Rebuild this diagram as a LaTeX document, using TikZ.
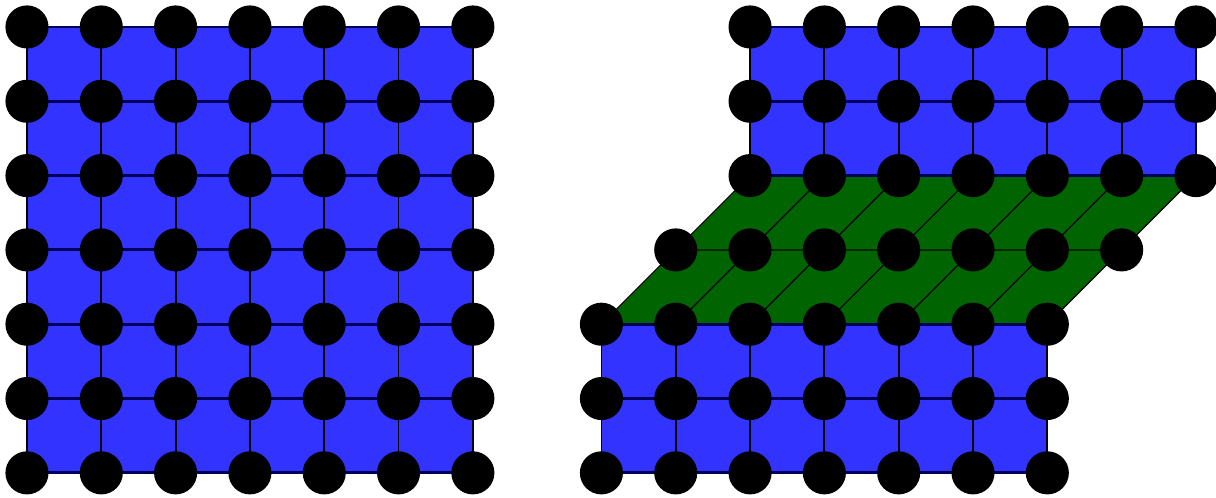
\documentclass[tikz,border=0pt]{standalone}
\usepackage{tikz}
\usetikzlibrary{calc}
\definecolor{gridblue}{RGB}{51,51,255}
\definecolor{sheargreen}{RGB}{0,100,0}
\definecolor{darknavy}{RGB}{0,0,90}
\definecolor{darkmoss}{RGB}{0,40,0}

\begin{document}
\begin{tikzpicture}[
        site/.style={circle, fill=black, inner sep=0pt, minimum size=0.58cm},
        bluecell/.style={fill=gridblue},
        shearcell/.style={fill=sheargreen},
        rung/.style={draw=black, line width=0.7pt},
        slant/.style={draw=black, line width=0.45pt},
        rail/.style={draw=darknavy, line width=1.1pt},
        shearrail/.style={draw=darkmoss, line width=0.9pt}
    ]
    \useasboundingbox (-0.363,-0.336) rectangle (16.0,6.363);
    % lattice sites
    \foreach \i in {0,...,6} {
        \foreach \j in {0,...,6} {
            \coordinate (a-\i-\j) at (\i,\j);
        }
        \foreach \j in {0,1,2} {\coordinate (b-\i-\j) at (7.73+\i,\j);}
        \coordinate (b-\i-3) at (8.73+\i,3);
        \foreach \j in {4,5,6} {\coordinate (b-\i-\j) at (9.73+\i,\j);}
    }
    % perfect crystal
    \fill[bluecell] (a-0-0) rectangle (a-6-6);
    \foreach \i in {0,...,6} {
        \draw[rung] (a-\i-0) -- (a-\i-6);
    }
    \foreach \j in {0,...,6} {
        \draw[rail] (a-0-\j) -- (a-6-\j);
    }
    % sheared crystal
    \fill[bluecell] (b-0-0) rectangle (b-6-2);
    \fill[bluecell] (b-0-4) rectangle (b-6-6);
    \fill[shearcell] (b-0-2) -- (b-6-2) -- (b-6-4) -- (b-0-4) -- cycle;
    \foreach \i in {0,...,6} {
        \draw[rung] (b-\i-0) -- (b-\i-2);
        \draw[slant] (b-\i-2) -- (b-\i-3) -- (b-\i-4);
        \draw[rung] (b-\i-4) -- (b-\i-6);
    }
    \foreach \j in {0,1,2,4,5,6} {
        \draw[rail] (b-0-\j) -- (b-6-\j);
    }
    \draw[shearrail] (b-0-3) -- (b-6-3);
    % atoms
    \foreach \i in {0,...,6} {
        \foreach \j in {0,...,6} {
            \node[site] (A-\i-\j) at (a-\i-\j) {};
            \node[site] (B-\i-\j) at (b-\i-\j) {};
        }
    }
\end{tikzpicture}
\end{document}
